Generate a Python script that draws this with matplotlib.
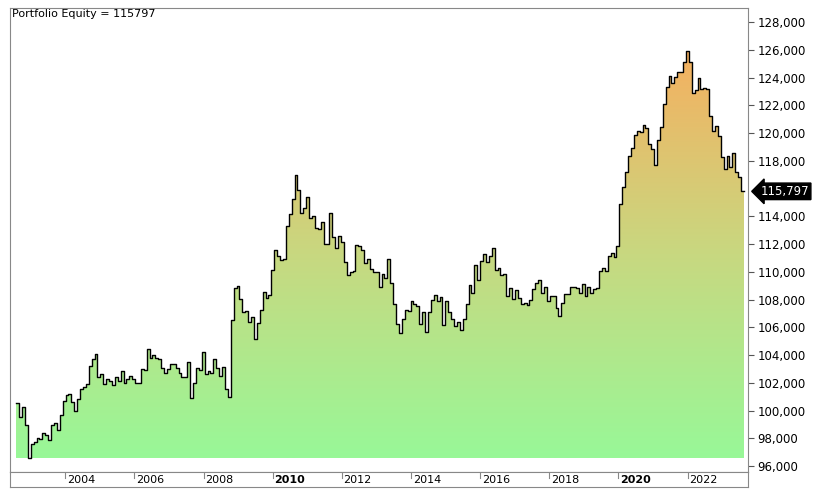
import numpy as np
import matplotlib
matplotlib.use("Agg")
import matplotlib.pyplot as plt
from matplotlib.colors import LinearSegmentedColormap
from matplotlib.ticker import FuncFormatter

equity = [
    100520, 99530, 100230, 98930, 96560, 97590, 97710, 98040, 97950, 98400, 98210, 97850,
    98930, 99080, 98600, 99680, 100660, 101120, 101170, 100590, 99970, 100830, 101570, 101670,
    101890, 103210, 103690, 104050, 102440, 102610, 101890, 102250, 102130, 101840, 102390, 102150,
    102870, 101980, 102250, 102510, 102270, 101980, 101980, 102970, 102920, 104410, 103760, 104020,
    103760, 103690, 103040, 102680, 102970, 103330, 103330, 103040, 102680, 102420, 102420, 103500,
    100910, 101960, 103040, 102920, 104220, 102610, 102820, 102680, 103690, 103040, 102490, 103110,
    101550, 100970, 106500, 108810, 109000, 108060, 107100, 107190, 106360, 106760, 105130, 106290,
    107220, 108550, 108110, 108300, 110100, 111590, 111160, 110850, 110900, 113280, 114170, 115230,
    116960, 115870, 114210, 114620, 115370, 113850, 114040, 113170, 113100, 113590, 111980, 111980,
    114210, 112480, 111690, 112600, 112170, 110680, 109770, 109960, 110030, 111950, 111830, 111570,
    110610, 110900, 110180, 109960, 110010, 108900, 109870, 109550, 110940, 109170, 107700, 106210,
    105590, 106570, 107270, 107170, 107870, 107650, 107530, 106230, 107080, 105660, 107080, 107940,
    108300, 107910, 108160, 106160, 107870, 107120, 106570, 106090, 106360, 105800, 106570, 107650,
    109020, 108470, 110470, 109380, 110750, 111260, 110700, 111160, 111690, 110130, 110250, 109770,
    109860, 108230, 108810, 108020, 108660, 108080, 107650, 107770, 107580, 107940, 108760, 109210,
    109380, 108450, 108880, 107890, 108230, 108230, 107390, 106790, 107730, 108380, 108380, 108880,
    108880, 108810, 108450, 109100, 108230, 108880, 108450, 108760, 108830, 110030, 110290, 110070,
    111160, 111380, 111040, 111880, 114860, 116110, 117170, 118370, 118920, 119880, 120170, 120070,
    120600, 120340, 119230, 118850, 117670, 119530, 120410, 122070, 123320, 124090, 123580, 124010,
    124420, 124420, 125140, 125930, 125140, 122910, 123100, 123990, 123170, 123270, 123170, 121250,
    120120, 120530, 119810, 118300, 117410, 118340, 117550, 118580, 117210, 116830, 115797,
]
year_ticks = list(range(2004, 2023, 2))
bold_years = [2010, 2020]
last_value = 115797
y_ticks = [v for v in range(96000, 128001, 2000) if v != 116000]

dates = np.linspace(2002.58, 2023.55, len(equity))
vals = np.array(equity, dtype=float)
base = 96600
ymin, ymax = 95570, 129010
xmin, xmax = 2002.4, 2023.75

fig = plt.figure(figsize=(8.18, 4.91), dpi=100)
W, H = 818, 491
ax = fig.add_axes([10 / W, (H - 472) / H, 738 / W, 464 / H])
ax2 = fig.add_axes([10 / W, (H - 487) / H, 738 / W, 15 / H], sharex=ax)

cmap = LinearSegmentedColormap.from_list("g", ["#98f898", "#c8d880", "#f5b060"])
grad = np.linspace(0, 1, 256).reshape(-1, 1)
im = ax.imshow(grad, aspect="auto", cmap=cmap, origin="lower",
               extent=[xmin, xmax, base, 126000], zorder=1)
xs = np.repeat(dates, 2)[1:]
xs = np.append(xs, dates[-1] + (dates[1] - dates[0]))
ys = np.repeat(vals, 2)
poly_x = np.concatenate([[xs[0]], xs, [xs[-1]]])
poly_y = np.concatenate([[base], ys, [base]])
patch = ax.fill(poly_x, poly_y, facecolor="none", edgecolor="none")[0]
im.set_clip_path(patch)
ax.plot(xs, ys, color="black", lw=1.0, zorder=3)

ax.set_xlim(xmin, xmax)
ax.set_ylim(ymin, ymax)
ax.yaxis.tick_right()
ax.set_yticks(y_ticks)
ax.yaxis.set_major_formatter(FuncFormatter(lambda v, p: f"{int(v):,}"))
ax.tick_params(axis="y", labelsize=8.5, length=4, color="#555555", pad=3)
ax.tick_params(axis="x", bottom=False, labelbottom=False)
for s in ax.spines.values():
    s.set_color("#888888")

ax.text(0.003, 0.997, f"Portfolio Equity = {last_value}", transform=ax.transAxes,
        ha="left", va="top", fontsize=8)

ax.annotate(f"{last_value:,}", xy=(1.0, last_value), xycoords=("axes fraction", "data"),
            xytext=(9, 0), textcoords="offset points", ha="left", va="center",
            fontsize=8.5, color="white",
            bbox=dict(boxstyle="larrow,pad=0.15", fc="black", ec="black"),
            annotation_clip=False)

ax2.set_ylim(0, 1)
ax2.set_yticks([])
ax2.tick_params(axis="x", bottom=False, labelbottom=False)
for s in ax2.spines.values():
    s.set_color("#888888")
for yv in year_ticks:
    ax2.plot([yv, yv], [1, 0.6], color="#888888", lw=0.8)
    ax2.text(yv + 0.05, 0.45, str(yv), ha="left", va="center", fontsize=8,
             fontweight="bold" if yv in bold_years else "normal")

fig.savefig("out.png", dpi=100)
